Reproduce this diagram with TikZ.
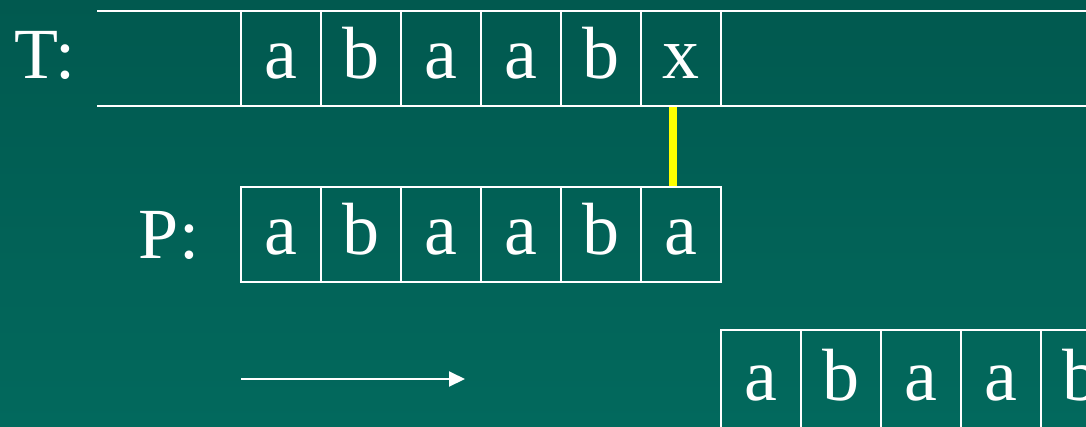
\documentclass[tikz,border=0pt]{standalone}
\usepackage{fontspec}
\setmainfont{Liberation Serif}
\usetikzlibrary{arrows.meta}
\definecolor{bgtop}{HTML}{01594F}
\definecolor{bgbot}{HTML}{02695D}
\definecolor{hiyel}{RGB}{255,255,0}
\begin{document}
\begin{tikzpicture}[x=1pt,y=-1pt,
  cell/.style={draw=white, line width=2pt, minimum width=80pt, minimum height=95pt,
    inner sep=0pt, text=white, font=\fontsize{74}{80}\selectfont, text height=40pt, text depth=0pt},
  lowcell/.style={cell, minimum height=110pt, text height=30pt},
  lbl/.style={text=white, font=\fontsize{72}{80}\selectfont, inner sep=0pt, anchor=base},
  rule/.style={draw=white, line width=2pt}]
\useasboundingbox (0,0) rectangle (1086,426);
\clip (0,0) rectangle (1086,426);
\shade[top color=bgtop, bottom color=bgbot] (0,0) rectangle (1086,426);
% T row
\node[lbl] (tlab) at (45,78) {T:};
\coordinate (tl1) at (97,11);
\coordinate (tr1) at (1086,11);
\coordinate (tl2) at (97,106);
\coordinate (tr2) at (1086,106);
\draw[rule] (tl1) -- (tr1);
\draw[rule] (tl2) -- (tr2);
\foreach \c [count=\i] in {a,b,a,a,b,x}{
  \node[cell] (t\i) at ({241+80*\i-40},58.5) {\c};
}
% P row
\node[lbl] (plab) at (169,258) {P:};
\foreach \c [count=\i] in {a,b,a,a,b,a}{
  \node[cell] (p\i) at ({241+80*\i-40},234) {\c};
}
% mismatch marker
\draw[hiyel, line width=8pt] ([xshift=-8pt]t6.south) -- ([xshift=-8pt]p6.north);
% arrow
\coordinate (a1) at (241,379);
\coordinate (a2) at (465,379);
\draw[white, line width=2pt, -{Triangle[length=16pt,width=15pt]}] (a1) -- (a2);
% shifted pattern
\foreach \c [count=\i] in {a,b,a,a,b,a}{
  \node[lowcell] (q\i) at ({721+80*\i-40},385) {\c};
}
\end{tikzpicture}
\end{document}
